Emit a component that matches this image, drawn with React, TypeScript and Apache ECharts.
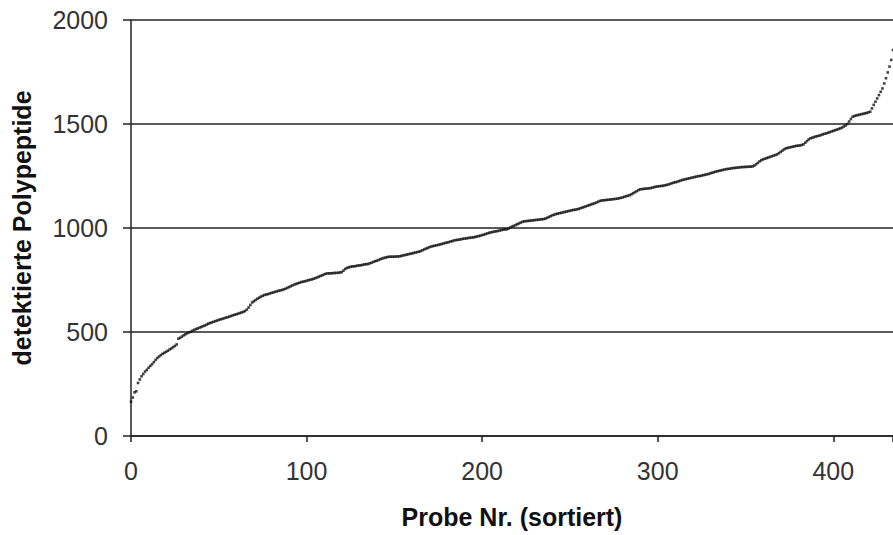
import React, { useEffect, useRef } from "react";
import * as echarts from "echarts";

// detected polypeptides per sample, sorted ascending (sample index 0..434)
const polypeptides: number[] = [
  165, 185, 210, 215, 255, 272, 287, 298, 310, 318,
  328, 337, 345, 355, 366, 375, 382, 389, 395, 400,
  405, 410, 416, 421, 427, 433, 440, 468, 472, 478,
  484, 489, 494, 498, 501, 506, 510, 514, 517, 521,
  524, 528, 531, 535, 540, 543, 546, 549, 552, 555,
  558, 561, 563, 566, 569, 571, 574, 577, 580, 583,
  585, 588, 591, 594, 597, 601, 608, 618, 630, 642,
  648, 654, 660, 665, 670, 674, 678, 680, 682, 685,
  688, 690, 693, 695, 698, 700, 702, 705, 708, 712,
  716, 720, 724, 728, 731, 734, 737, 740, 742, 744,
  746, 749, 751, 753, 756, 759, 762, 766, 770, 773,
  777, 780, 782, 782, 782, 783, 784, 784, 785, 786,
  788, 795, 803, 808, 811, 813, 815, 816, 817, 819,
  820, 821, 823, 825, 826, 827, 830, 833, 837, 840,
  843, 846, 850, 853, 856, 858, 860, 862, 862, 862,
  862, 863, 863, 864, 866, 868, 870, 872, 874, 876,
  878, 880, 882, 884, 886, 889, 893, 897, 901, 904,
  908, 911, 913, 915, 917, 919, 921, 923, 926, 928,
  930, 932, 935, 937, 940, 942, 943, 944, 946, 948,
  949, 950, 952, 953, 954, 955, 957, 959, 961, 963,
  966, 968, 971, 974, 977, 979, 981, 983, 984, 986,
  988, 990, 992, 993, 994, 997, 1002, 1007, 1010, 1014,
  1018, 1022, 1026, 1030, 1032, 1033, 1034, 1035, 1036, 1037,
  1038, 1039, 1040, 1041, 1042, 1043, 1045, 1049, 1053, 1057,
  1061, 1064, 1067, 1069, 1071, 1073, 1075, 1077, 1079, 1081,
  1083, 1085, 1087, 1088, 1090, 1092, 1095, 1098, 1101, 1104,
  1107, 1110, 1113, 1116, 1119, 1122, 1126, 1130, 1132, 1133,
  1134, 1135, 1136, 1137, 1138, 1139, 1140, 1141, 1143, 1145,
  1147, 1150, 1153, 1155, 1158, 1162, 1167, 1172, 1177, 1182,
  1186, 1187, 1188, 1189, 1190, 1191, 1192, 1194, 1196, 1199,
  1200, 1201, 1202, 1203, 1205, 1207, 1209, 1212, 1215, 1218,
  1220, 1222, 1225, 1228, 1231, 1233, 1235, 1237, 1239, 1241,
  1243, 1245, 1247, 1249, 1250, 1252, 1254, 1256, 1258, 1260,
  1263, 1266, 1268, 1271, 1273, 1275, 1277, 1279, 1281, 1283,
  1284, 1285, 1287, 1288, 1289, 1290, 1291, 1292, 1293, 1293,
  1294, 1294, 1295, 1295, 1296, 1300, 1306, 1313, 1320, 1326,
  1330, 1333, 1336, 1339, 1342, 1345, 1348, 1351, 1354, 1360,
  1366, 1372, 1378, 1383, 1385, 1387, 1389, 1391, 1393, 1395,
  1396, 1397, 1399, 1402, 1410, 1418, 1426, 1431, 1434, 1437,
  1440, 1442, 1444, 1447, 1450, 1453, 1455, 1458, 1461, 1464,
  1467, 1470, 1473, 1476, 1479, 1483, 1488, 1493, 1500, 1512,
  1524, 1535, 1538, 1541, 1543, 1545, 1547, 1549, 1551, 1553,
  1556, 1559, 1575, 1592, 1607, 1623, 1639, 1655, 1671, 1695,
  1720, 1748, 1776, 1808, 1856,
];

const xTitle = "Probe Nr. (sortiert)";
const yTitle = "detektierte Polypeptide";
const xMax = 434;
const xStep = 100;
const yMax = 2000;
const yStep = 500;

const FONT = "'Liberation Sans', Arial, sans-serif";

export default function App() {
  const ref = useRef<HTMLDivElement>(null);

  useEffect(() => {
    if (!ref.current) return;
    const chart = echarts.init(ref.current, null, { renderer: "svg" });
    const points = polypeptides.map((v, i) => [i, v]);
    chart.setOption({
      animation: false,
      backgroundColor: "#ffffff",
      grid: { left: 131, right: 0, top: 20, bottom: 99, containLabel: false, outerBoundsMode: "none" },
      xAxis: {
        type: "value",
        min: 0,
        max: xMax,
        interval: xStep,
        name: xTitle,
        nameLocation: "middle",
        nameGap: 68,
        nameTextStyle: { fontFamily: FONT, fontSize: 25, fontWeight: "bold", color: "#111" },
        axisLine: { show: true, lineStyle: { color: "#222", width: 1.5 } },
        axisTick: { show: true, length: 6, lineStyle: { color: "#222", width: 1.5 } },
        axisLabel: {
          fontFamily: FONT,
          fontSize: 25,
          color: "#333",
          margin: 22,
          formatter: (v: number) => (v % xStep === 0 ? String(v) : ""),
        },
        splitLine: { show: false },
      },
      yAxis: {
        type: "value",
        min: 0,
        max: yMax,
        interval: yStep,
        name: yTitle,
        nameLocation: "middle",
        nameGap: 97,
        nameTextStyle: { fontFamily: FONT, fontSize: 25, fontWeight: "bold", color: "#111" },
        axisLine: { show: true, lineStyle: { color: "#222", width: 1.5 } },
        axisTick: { show: true, length: 8, lineStyle: { color: "#222", width: 1.5 } },
        axisLabel: {
          fontFamily: FONT,
          fontSize: 25,
          color: "#333",
          margin: 23,
          formatter: (v: number) => String(v),
        },
        splitLine: { show: true, lineStyle: { color: "#222", width: 1.5 } },
      },
      series: [
        {
          type: "scatter",
          data: points,
          symbol: "rect",
          symbolSize: 2.6,
          itemStyle: { color: "#111" },
          clip: false,
        },
      ],
    });
    return () => chart.dispose();
  }, []);

  return (
    <div
      ref={ref}
      style={{ position: "absolute", left: 0, top: 0, width: 893, height: 535 }}
    />
  );
}
